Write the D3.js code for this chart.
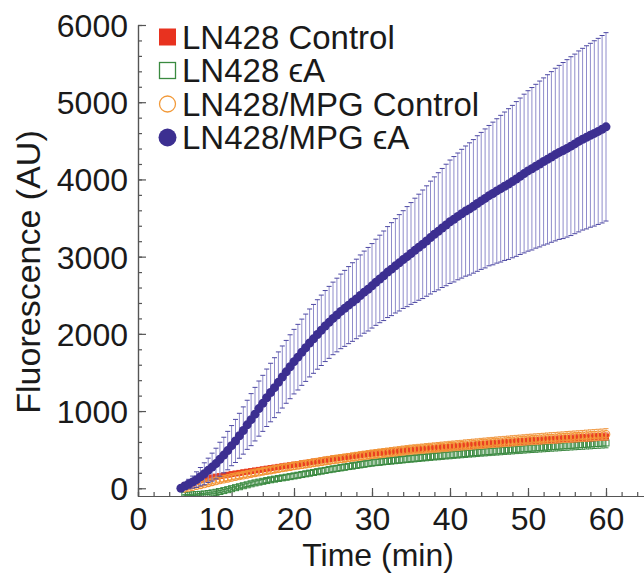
<!DOCTYPE html>
<html>
<head>
<meta charset="utf-8">
<script src="https://cdn.jsdelivr.net/npm/d3@7"></script>
<style>
  body { margin: 0; background: #fff; }
  text { font-family: "Liberation Sans", Arial, sans-serif; fill: #1a1a1a; }
  .axis path, .axis line { stroke: #555; stroke-width: 1.2; }
</style>
</head>
<body>
<div id="chart"></div>
<script>
// time points (min), one reading every 30 s
var time = [5.5,6,6.5,7,7.5,8,8.5,9,9.5,10,10.5,11,11.5,12,12.5,13,13.5,14,14.5,15,
  15.5,16,16.5,17,17.5,18,18.5,19,19.5,20,20.5,21,21.5,22,22.5,23,23.5,24,24.5,25,
  25.5,26,26.5,27,27.5,28,28.5,29,29.5,30,30.5,31,31.5,32,32.5,33,33.5,34,34.5,35,
  35.5,36,36.5,37,37.5,38,38.5,39,39.5,40,40.5,41,41.5,42,42.5,43,43.5,44,44.5,45,
  45.5,46,46.5,47,47.5,48,48.5,49,49.5,50,50.5,51,51.5,52,52.5,53,53.5,54,54.5,55,
  55.5,56,56.5,57,57.5,58,58.5,59,59.5,60];

// LN428/MPG eA (mean, sd)
var mpgEA = [0,30,55,80,112,150,188,232,274,320,376,430,488,552,613,680,748,822,889,960,
  1032,1100,1172,1240,1303,1372,1441,1508,1574,1640,1698,1762,1820,1882,1935,1992,2046,2101,2149,2200,
  2244,2291,2330,2372,2412,2452,2497,2540,2578,2622,2668,2711,2752,2800,2838,2881,2920,2962,3000,3041,
  3082,3122,3160,3202,3247,3290,3328,3371,3410,3452,3484,3521,3556,3590,3618,3651,3688,3722,3754,3790,
  3818,3851,3880,3912,3940,3972,4006,4041,4076,4110,4138,4171,4200,4232,4260,4291,4322,4350,4374,4402,
  4431,4460,4492,4521,4545,4572,4596,4622,4650,4681];
var mpgEASd = [30,46,61,78,101,119,142,158,181,199,220,231,249,260,279,291,306,318,337,347,
  357,363,372,379,388,394,402,407,414,418,425,429,436,440,446,450,456,460,466,470,
  477,483,492,499,509,515,525,532,541,547,558,567,580,589,602,611,624,633,648,659,
  675,687,703,715,731,743,759,771,787,799,812,821,834,843,856,865,878,887,900,909,
  924,935,950,961,976,987,1002,1013,1028,1039,1052,1061,1074,1083,1096,1105,1118,1127,1140,1149,
  1158,1163,1172,1177,1186,1191,1200,1205,1214,1220];

// LN428 Control (no reading at 5.5 min)
var ctrl = [null,40,46,61,82,108,121,131,140,151,158,167,175,184,192,199,208,215,223,231,
  238,246,254,262,269,277,284,292,298,306,313,322,329,338,345,353,361,369,377,385,
  391,398,404,411,418,424,431,437,444,450,455,459,464,468,473,477,482,486,491,495,
  499,503,507,511,515,519,523,527,531,535,539,543,547,551,555,559,563,567,571,575,
  578,582,585,589,592,596,599,603,606,610,613,616,619,622,625,628,631,634,637,640,
  643,646,649,652,655,658,661,664,667,670];
var ctrlSd = [null,12,14,15,16,18,18,19,20,20,21,21,22,22,23,23,23,24,24,25,
  25,25,26,26,26,27,27,27,28,28,28,29,29,29,30,30,30,30,31,31,
  31,31,32,32,32,32,33,33,33,33,34,34,34,34,35,35,35,35,36,36,
  36,36,36,37,37,37,37,38,38,38,38,38,39,39,39,39,40,40,40,40,
  40,41,41,41,41,42,42,42,42,42,43,43,43,43,43,44,44,44,44,44,
  45,45,45,45,45,46,46,46,46,46];

// LN428 eA
var ea = [null,-90,-88,-85,-82,-78,-74,-68,-60,-52,-42,-30,-18,-5,8,20,33,45,58,70,
  80,90,100,110,118,127,135,143,151,160,169,178,187,196,205,214,223,232,241,250,
  258,266,274,282,290,298,306,314,322,330,336,341,347,352,358,363,368,374,379,384,
  389,394,399,404,409,414,418,423,428,432,437,441,446,450,455,459,463,468,472,476,
  480,484,488,492,496,500,504,508,512,516,520,523,527,531,534,538,542,545,549,552,
  556,559,563,566,570,573,577,580,584,587];
var eaSd = [null,8,8,9,9,10,10,11,12,13,14,15,16,17,18,19,20,21,22,23,
  24,25,26,27,28,29,30,31,32,33,33,34,34,35,35,36,36,37,37,38,
  38,39,39,40,40,41,41,42,42,43,43,44,44,44,45,45,45,46,46,46,
  47,47,47,48,48,48,49,49,49,50,50,50,51,51,51,52,52,52,53,53,
  53,54,54,54,55,55,55,56,56,56,57,57,57,58,58,58,59,59,59,60,
  60,60,61,61,61,62,62,62,63,63];

// LN428/MPG Control
var mpgCtrl = [null,0,10,21,33,45,57,70,83,95,107,118,129,140,150,160,170,180,190,200,
  209,218,227,236,245,254,263,272,281,290,298,306,314,322,330,338,346,354,362,370,
  377,384,391,398,405,412,419,426,433,440,446,452,458,464,470,476,482,488,494,500,
  504,509,513,518,522,527,531,536,540,545,549,554,558,563,567,572,576,581,585,590,
  594,598,602,606,610,614,618,622,626,630,633,637,640,644,647,651,654,658,661,665,
  668,672,675,679,682,686,689,693,696,700];
var mpgCtrlSd = [null,18,19,20,21,22,23,24,25,26,27,28,29,30,31,32,33,34,35,36,
  37,38,39,40,41,42,43,44,45,46,47,47,48,48,49,49,50,50,51,51,
  52,52,53,53,54,54,55,55,56,56,56,57,57,57,58,58,58,59,59,59,
  60,60,60,61,61,61,62,62,62,63,63,63,63,64,64,64,64,65,65,65,
  65,66,66,66,66,67,67,67,67,68,68,68,68,68,69,69,69,69,69,70,
  70,70,70,70,71,71,71,71,71,72];

var seriesNames = ["LN428 Control", "LN428 \u03f5A", "LN428/MPG Control", "LN428/MPG \u03f5A"];
var xTicks = [0, 10, 20, 30, 40, 50, 60];
var yTicks = [0, 1000, 2000, 3000, 4000, 5000, 6000];

var W = 644, H = 573;
var svg = d3.select("#chart").append("svg")
    .attr("width", W)
    .attr("height", H);

var x = d3.scaleLinear().domain([0, 65]).range([138, 645]);
var y = d3.scaleLinear().domain([-100, 6000]).range([496, 25]);

svg.append("defs").append("clipPath")
    .attr("id", "plotclip")
    .append("rect")
    .attr("x", 138).attr("y", 0)
    .attr("width", W - 138).attr("height", 496);

// axes: major ticks point inward
var yAxis = d3.axisLeft(y).tickValues(yTicks).tickFormat(d3.format("d"))
    .tickSize(-8).tickSizeOuter(0).tickPadding(10);
var yMinor = d3.axisLeft(y).tickValues(d3.range(0, 6001, 200)).tickSize(-4).tickFormat("");
var xAxis = d3.axisBottom(x).tickValues(xTicks).tickFormat(d3.format("d"))
    .tickSize(-8).tickSizeOuter(0).tickPadding(11);
var xMinor = d3.axisBottom(x).tickValues(d3.range(0, 65, 2)).tickSize(-4).tickFormat("");

svg.append("g").attr("class", "axis").attr("transform", "translate(138,0)").call(yMinor);
svg.append("g").attr("class", "axis").attr("transform", "translate(0,496)").call(xMinor);

var gy = svg.append("g").attr("class", "axis").attr("transform", "translate(138,0)").call(yAxis);
var gx = svg.append("g").attr("class", "axis").attr("transform", "translate(0,496)").call(xAxis);
svg.selectAll(".axis text").style("font-size", "32px").attr("fill", "#1a1a1a");
gy.selectAll("text").attr("dy", "0.36em");

svg.append("text")
    .attr("x", 378).attr("y", 566)
    .attr("text-anchor", "middle")
    .style("font-size", "32px")
    .text("Time (min)");

svg.append("text")
    .attr("transform", "translate(40,272) rotate(-90)")
    .attr("text-anchor", "middle")
    .style("font-size", "34px")
    .text("Fluorescence (AU)");

function makeData(vals, sds) {
    return time.map(function (t, i) { return {t: t, v: vals[i], s: sds[i]}; })
        .filter(function (d) { return d.v !== null; });
}

var plot = svg.append("g").attr("clip-path", "url(#plotclip)");

function errorBars(data, lineColor, capColor, capW) {
    var g = plot.append("g");
    g.selectAll("line.bar").data(data).enter().append("line")
        .attr("x1", function (d) { return x(d.t); })
        .attr("x2", function (d) { return x(d.t); })
        .attr("y1", function (d) { return y(d.v - d.s); })
        .attr("y2", function (d) { return y(d.v + d.s); })
        .attr("stroke", lineColor).attr("stroke-width", 1);
    [-1, 1].forEach(function (sgn) {
        g.selectAll(null).data(data).enter().append("line")
            .attr("x1", function (d) { return x(d.t) - capW / 2; })
            .attr("x2", function (d) { return x(d.t) + capW / 2; })
            .attr("y1", function (d) { return y(d.v + sgn * d.s); })
            .attr("y2", function (d) { return y(d.v + sgn * d.s); })
            .attr("stroke", capColor).attr("stroke-width", 1);
    });
}

var dOrange = makeData(mpgCtrl, mpgCtrlSd),
    dGreen = makeData(ea, eaSd),
    dRed = makeData(ctrl, ctrlSd),
    dBlue = makeData(mpgEA, mpgEASd);

// LN428 eA: open green squares
errorBars(dGreen, "#5a9a5e", "#3f8a45", 5);
plot.append("g").selectAll("rect").data(dGreen).enter().append("rect")
    .attr("x", function (d) { return x(d.t) - 3; })
    .attr("y", function (d) { return y(d.v) - 3; })
    .attr("width", 6).attr("height", 6)
    .attr("fill", "none").attr("stroke", "#3a8a40").attr("stroke-width", 1);

// LN428 Control: filled red squares
errorBars(dRed, "#ee5a3a", "#e8402a", 5);
plot.append("g").selectAll("rect").data(dRed).enter().append("rect")
    .attr("x", function (d) { return x(d.t) - 3; })
    .attr("y", function (d) { return y(d.v) - 3; })
    .attr("width", 6).attr("height", 6)
    .attr("fill", "#ea3f22");

// LN428/MPG Control: open orange circles
errorBars(dOrange, "#f6b070", "#f09a45", 5);
plot.append("g").selectAll("circle").data(dOrange).enter().append("circle")
    .attr("cx", function (d) { return x(d.t); })
    .attr("cy", function (d) { return y(d.v); })
    .attr("r", 3.8)
    .attr("fill", "none").attr("stroke", "#f39433").attr("stroke-width", 1.1);

// LN428/MPG eA: filled blue circles
errorBars(dBlue, "#8f8ccb", "#4d48a3", 5);
plot.append("g").selectAll("circle").data(dBlue).enter().append("circle")
    .attr("cx", function (d) { return x(d.t); })
    .attr("cy", function (d) { return y(d.v); })
    .attr("r", 4.5)
    .attr("fill", "#3c2f91");

// legend
var legend = svg.append("g").attr("transform", "translate(158,37)");
var rowH = 33.5;
seriesNames.forEach(function (name, i) {
    var row = legend.append("g").attr("transform", "translate(0," + (i * rowH) + ")");
    if (i === 0) {
        row.append("rect").attr("x", 1).attr("y", -8.5).attr("width", 17).attr("height", 17)
            .attr("fill", "#e8321f");
    } else if (i === 1) {
        row.append("rect").attr("x", 1.5).attr("y", -8).attr("width", 16).attr("height", 16)
            .attr("fill", "none").attr("stroke", "#3a8a40").attr("stroke-width", 1.3);
    } else if (i === 2) {
        row.append("circle").attr("cx", 9.5).attr("cy", 0).attr("r", 8)
            .attr("fill", "none").attr("stroke", "#f29a3a").attr("stroke-width", 1.3);
    } else {
        row.append("circle").attr("cx", 9.5).attr("cy", 0).attr("r", 9)
            .attr("fill", "#3c2f91");
    }
    row.append("text")
        .attr("x", 24).attr("y", 0).attr("dy", "0.36em")
        .style("font-size", "33px")
        .text(name);
});
</script>
</body>
</html>
